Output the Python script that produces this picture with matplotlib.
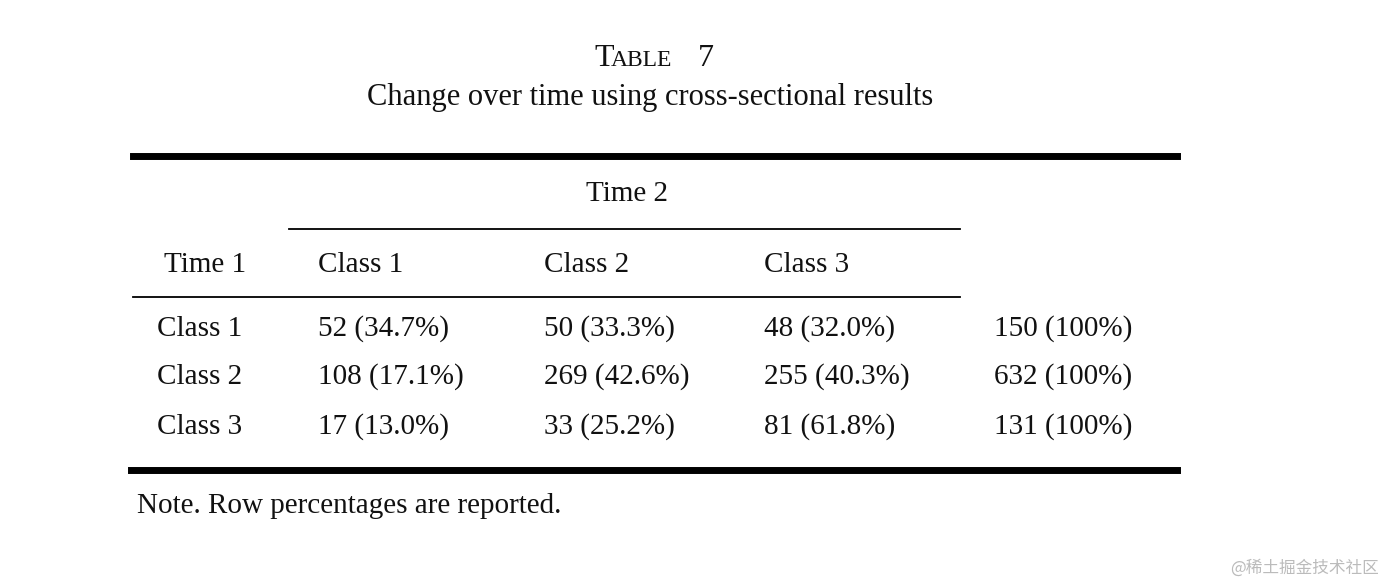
import matplotlib
matplotlib.use("Agg")
import matplotlib.pyplot as plt
from matplotlib.lines import Line2D

W, H = 1396, 584
title_num = "7"
subtitle = "Change over time using cross-sectional results"
col_group = "Time 2"
row_header = "Time 1"
col_labels = ["Class 1", "Class 2", "Class 3"]
row_labels = ["Class 1", "Class 2", "Class 3"]
counts = [[52, 50, 48], [108, 269, 255], [17, 33, 81]]
pcts = [[34.7, 33.3, 32.0], [17.1, 42.6, 40.3], [13.0, 25.2, 61.8]]
totals = [150, 632, 131]
note = "Note. Row percentages are reported."

fig = plt.figure(figsize=(W/100, H/100), dpi=100)
fig.patch.set_facecolor("white")
FONT = "Liberation Serif"
fs = 21

def T(x, y, s, size=fs, ha="left", **kw):
    fig.text(x/W, 1-y/H, s, fontsize=size, ha=ha, va="center", family=FONT, color="#111111", **kw)

def L(x0, x1, y, lw):
    fig.add_artist(Line2D([x0/W, x1/W], [1-y/H, 1-y/H], lw=lw, color="black", transform=fig.transFigure))

# title with small caps effect
T(594, 58, "T", size=23)
T(611, 60, "ABLE", size=17)
T(698, 58, title_num, size=23)
T(650, 98, subtitle, size=22, ha="center")

L(133, 1177, 156, 5)
L(289, 960, 229, 1.3)
L(133, 960, 297, 1.3)
L(131, 1177, 470, 5)

T(627, 194, col_group, ha="center")
T(164, 265, row_header)
colx = [318, 544, 764]
for x, c in zip(colx, col_labels):
    T(x, 265, c)
rowy = [329, 377, 427]
for i, y in enumerate(rowy):
    T(157, y, row_labels[i])
    for j, x in enumerate(colx):
        T(x, y, f"{counts[i][j]} ({pcts[i][j]:.1f}%)")
    T(994, y, f"{totals[i]} (100%)")
T(137, 506, note)

fig.text(1230/W, 1-568/H, "@稀土掘金技术社区", fontsize=12, ha="left", va="center",
         family=["Noto Sans CJK SC", "DejaVu Sans"], color="#bbbbbb")
fig.savefig("out.png", dpi=100, facecolor="white")
